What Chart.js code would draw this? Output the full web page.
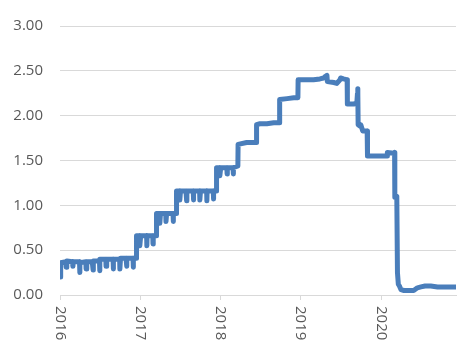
<!DOCTYPE html>
<html>
<head>
<meta charset="utf-8">
<script src="https://cdn.jsdelivr.net/npm/chart.js@4.4.1/dist/chart.umd.min.js"></script>
<style>
  html, body { margin: 0; padding: 0; background: #ffffff; }
  #wrap { width: 473px; height: 352px; }
</style>
</head>
<body>
<div id="wrap"><canvas id="rateChart" width="473" height="352"></canvas></div>
<script>
// tasa diaria (aprox.)
const dates = [
  "2016-01-01", "2016-01-04", "2016-01-28", "2016-01-29", "2016-02-01", "2016-02-26", "2016-02-29", "2016-03-01",
  "2016-03-30", "2016-03-31", "2016-04-01", "2016-04-28", "2016-04-29", "2016-05-02", "2016-05-27", "2016-05-31",
  "2016-06-01", "2016-06-29", "2016-06-30", "2016-07-01", "2016-07-28", "2016-07-29", "2016-08-01", "2016-08-30",
  "2016-08-31", "2016-09-01", "2016-09-29", "2016-09-30", "2016-10-03", "2016-10-28", "2016-10-31", "2016-11-01",
  "2016-11-29", "2016-11-30", "2016-12-01", "2016-12-14", "2016-12-15", "2016-12-29", "2016-12-30",
  "2017-01-03", "2017-01-30", "2017-01-31", "2017-02-01", "2017-02-27", "2017-02-28", "2017-03-01", "2017-03-15",
  "2017-03-16", "2017-03-30", "2017-03-31", "2017-04-03", "2017-04-27", "2017-04-28", "2017-05-01", "2017-05-30",
  "2017-05-31", "2017-06-01", "2017-06-14", "2017-06-15", "2017-06-29", "2017-06-30", "2017-07-03", "2017-07-28",
  "2017-07-31", "2017-08-01", "2017-08-30", "2017-08-31", "2017-09-01", "2017-09-28", "2017-09-29", "2017-10-02",
  "2017-10-30", "2017-10-31", "2017-11-01", "2017-11-29", "2017-11-30", "2017-12-01", "2017-12-13", "2017-12-14",
  "2017-12-28", "2017-12-29",
  "2018-01-02", "2018-01-30", "2018-01-31", "2018-02-01", "2018-02-27", "2018-02-28", "2018-03-01", "2018-03-21",
  "2018-03-22", "2018-04-30", "2018-05-31", "2018-06-13", "2018-06-14", "2018-06-29", "2018-07-31", "2018-08-31",
  "2018-09-26", "2018-09-27", "2018-10-31", "2018-11-30", "2018-12-19", "2018-12-20",
  "2019-01-31", "2019-02-28", "2019-03-29", "2019-04-15", "2019-04-24", "2019-04-30", "2019-05-02", "2019-05-31",
  "2019-06-14", "2019-06-28", "2019-07-01", "2019-07-15", "2019-07-31", "2019-08-01", "2019-08-30", "2019-09-13",
  "2019-09-16", "2019-09-17", "2019-09-18", "2019-09-19", "2019-09-30", "2019-10-01", "2019-10-10", "2019-10-30",
  "2019-10-31", "2019-11-01", "2019-12-31",
  "2020-01-29", "2020-01-30", "2020-02-28", "2020-03-03", "2020-03-04", "2020-03-13", "2020-03-16", "2020-03-17",
  "2020-03-20", "2020-03-25", "2020-04-01", "2020-04-15", "2020-05-15", "2020-05-29", "2020-06-15", "2020-07-01",
  "2020-07-20", "2020-08-15", "2020-09-15", "2020-10-15", "2020-11-15", "2020-12-08"
];

const rates = [
  0.20, 0.36, 0.37, 0.31, 0.38, 0.37, 0.32, 0.37,
  0.37, 0.25, 0.36, 0.37, 0.29, 0.37, 0.37, 0.28,
  0.38, 0.38, 0.27, 0.40, 0.40, 0.32, 0.40, 0.40,
  0.29, 0.40, 0.40, 0.29, 0.41, 0.41, 0.32, 0.41,
  0.41, 0.31, 0.41, 0.41, 0.66, 0.66, 0.55,
  0.66, 0.66, 0.55, 0.66, 0.66, 0.57, 0.66, 0.66,
  0.91, 0.91, 0.80, 0.91, 0.91, 0.82, 0.91, 0.91,
  0.82, 0.91, 0.91, 1.16, 1.16, 1.06, 1.16, 1.16,
  1.05, 1.16, 1.16, 1.06, 1.16, 1.16, 1.06, 1.16,
  1.16, 1.05, 1.16, 1.16, 1.07, 1.16, 1.16, 1.42,
  1.42, 1.33,
  1.42, 1.42, 1.35, 1.42, 1.42, 1.35, 1.42, 1.44,
  1.68, 1.70, 1.70, 1.70, 1.90, 1.91, 1.91, 1.92,
  1.92, 2.18, 2.19, 2.20, 2.20, 2.40,
  2.40, 2.40, 2.41, 2.42, 2.44, 2.45, 2.38, 2.37,
  2.36, 2.40, 2.42, 2.41, 2.40, 2.13, 2.13, 2.14,
  2.25, 2.30, 2.25, 1.90, 1.88, 1.90, 1.83, 1.83,
  1.58, 1.55, 1.55,
  1.55, 1.59, 1.58, 1.59, 1.09, 1.10, 0.25, 0.25,
  0.12, 0.10, 0.06, 0.05, 0.05, 0.05, 0.08, 0.09,
  0.10, 0.10, 0.09, 0.09, 0.09, 0.09
];

// fecha -> año decimal para el eje lineal
function toYear(s) {
  const [y, m, d] = s.split("-").map(Number);
  const start = Date.UTC(y, 0, 1);
  const end = Date.UTC(y + 1, 0, 1);
  return y + (Date.UTC(y, m - 1, d) - start) / (end - start);
}

document.addEventListener("DOMContentLoaded", () => {
  const points = dates.map((d, i) => ({ x: toYear(d), y: rates[i] }));

  // etiquetas de años giradas 90 grados (se leen de arriba abajo)
  const yearLabels = {
    id: "yearLabels",
    afterDraw(chart) {
      const xs = chart.scales.x;
      const ctx = chart.ctx;
      ctx.save();
      ctx.fillStyle = "#595959";
      ctx.font = "15px 'Open Sans'";
      ctx.textAlign = "left";
      ctx.textBaseline = "middle";
      xs.ticks.forEach(t => {
        const px = xs.getPixelForValue(t.value);
        ctx.save();
        ctx.translate(px, xs.top + 11);
        ctx.rotate(Math.PI / 2);
        ctx.fillText(String(t.value), 0, 0);
        ctx.restore();
      });
      ctx.restore();
    }
  };

  const ctx = document.getElementById("rateChart").getContext("2d");
  new Chart(ctx, {
    type: "line",
    data: {
      datasets: [{
        data: points,
        borderColor: "#4a7ebb",
        borderWidth: 5,
        borderJoinStyle: "round",
        borderCapStyle: "round",
        pointRadius: 0,
        tension: 0,
        fill: false
      }]
    },
    options: {
      responsive: false,
      animation: false,
      devicePixelRatio: 1,
      layout: { padding: { top: 19, right: 17, bottom: 0, left: 0 } },
      plugins: { legend: { display: false }, tooltip: { enabled: false } },
      scales: {
        x: {
          type: "linear",
          min: toYear(dates[0]),
          max: toYear(dates[dates.length - 1]),
          afterFit: scale => { scale.height = 57; },
          ticks: { display: false, stepSize: 1, includeBounds: false },
          grid: { drawOnChartArea: false, drawTicks: true, tickLength: 5, color: "#d9d9d9" },
          border: { display: true, color: "#d9d9d9" }
        },
        y: {
          min: 0,
          max: 3,
          afterFit: scale => { scale.width = 60; },
          ticks: {
            stepSize: 0.5,
            padding: 17,
            color: "#595959",
            font: { family: "'Open Sans'", size: 15 },
            callback: v => v.toFixed(2)
          },
          grid: { color: "#d9d9d9", drawTicks: false },
          border: { display: false }
        }
      }
    },
    plugins: [yearLabels]
  });
});
</script>
</body>
</html>
